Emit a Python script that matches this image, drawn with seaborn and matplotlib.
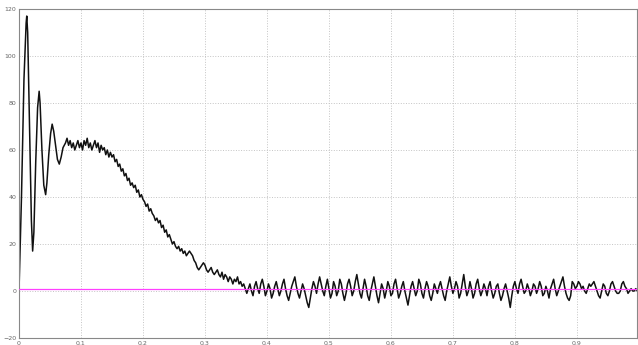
import numpy as np
import pandas as pd
import seaborn as sns
from matplotlib import pyplot as plt

# start-up oscillation (time in s, value)
t_start = [0, 0.004, 0.008, 0.0115, 0.0125, 0.014, 0.017, 0.020, 0.022, 0.024,
           0.027, 0.030, 0.0325, 0.034, 0.037, 0.040, 0.043, 0.045, 0.048, 0.051,
           0.0535, 0.056, 0.059, 0.062, 0.065, 0.068, 0.071]
v_start = [0, 40, 90, 114, 117, 110, 70, 30, 17, 25,
           55, 78, 85, 80, 60, 45, 41, 46, 58, 67,
           71, 68, 62, 56, 54, 57, 61]

# rest of the trace, sampled every 2.5 ms from 0.075 s
v_rest = [
    63, 65, 62, 64, 61, 63, 60, 62, 64, 61, 63, 60, 64, 62, 65, 61, 63, 60, 62, 64,
    61, 63, 59, 62, 60, 61, 58, 60, 57, 59, 57, 58, 55, 56, 53, 54, 51, 52, 49, 50,
    47, 48, 45, 46, 44, 45, 42, 43, 40, 41, 39, 38, 36, 37, 34, 35, 33, 32, 30, 31,
    29, 30, 27, 28, 25, 26, 23, 24, 22, 20, 21, 19, 18, 19, 17, 18, 16, 17, 15, 16,
    17, 16, 15, 13, 12, 10, 9, 10, 11, 12, 11, 9, 8, 9, 10, 8, 7, 8, 9, 7,
    6, 8, 5, 7, 6, 4, 6, 5, 3, 5, 4, 6, 3, 4, 2, 3, 1, -1, 1, 3,
    0, -2, 2, 4, 1, -1, 3, 5, 2, -2, 0, 3, 1, -3, -1, 2, 4, 1, -2, 0,
    3, 5, 1, -2, -4, -1, 2, 4, 6, 2, -1, -3, 0, 3, 1, -2, -5, -7, -3, 1,
    4, 2, -1, 3, 6, 3, 0, -2, 2, 5, 1, -3, -1, 4, 2, -2, 0, 5, 3, -1,
    -4, -1, 3, 5, 2, -2, 0, 4, 7, 3, -1, -3, 1, 5, 2, -2, -4, 0, 3, 6,
    2, -2, -5, -1, 3, 1, -3, 0, 4, 2, -2, -1, 3, 5, 1, -3, -1, 2, 4, 0,
    -3, -6, -2, 2, 4, 1, -2, 0, 5, 3, -1, -3, 1, 4, 2, -2, -4, -1, 3, 1,
    -1, 2, 4, 1, -2, -4, 0, 3, 6, 2, -1, 1, 4, 2, -3, -1, 3, 7, 2, -2,
    0, 4, 1, -3, -1, 3, 5, 1, -2, 0, 3, 1, -2, 2, 4, 0, -3, -1, 2, 3,
    -1, -4, -2, 1, 3, 0, -3, -7, -2, 2, 4, 1, -1, 3, 5, 2, -1, 0, 3, 1,
    -2, 0, 3, 2, -1, 1, 4, 2, -2, -1, 2, 0, -3, 1, 3, 5, 1, -2, 0, 2,
    4, 6, 2, -1, -3, -4, -2, 4, 3, 1, 2, 4, 3, 1, 2, 0, -1, 1, 3, 2,
    3, 4, 2, 0, -2, -3, 0, 3, 2, -1, -2, 0, 3, 4, 2, 0, -1, -1, 0, 3,
    4, 2, 1, -1, 0, 1, 0, 0, 1, 0, -1,
]
t_rest = 0.075 + 0.0025 * np.arange(len(v_rest))

ref_level = 1
x_ticks = [0, 0.1, 0.2, 0.3, 0.4, 0.5, 0.6, 0.7, 0.8, 0.9]
y_ticks = [-20, 0, 20, 40, 60, 80, 100, 120]

df = pd.DataFrame({'t': np.concatenate([t_start, t_rest]),
                   'v': np.concatenate([v_start, v_rest])})
ref = pd.DataFrame({'t': [0, 1], 'v': [ref_level, ref_level]})

sns.set_style('white')
fig = plt.figure(figsize=(6.38, 3.45), dpi=100)
ax = fig.add_axes([19 / 638, 7 / 345, 618 / 638, 329 / 345])

sns.lineplot(data=df, x='t', y='v', estimator=None, sort=False, color='#111111',
             linewidth=1.1, ax=ax)
sns.lineplot(data=ref, x='t', y='v', estimator=None, color='#ff40ff',
             linewidth=0.9, ax=ax, zorder=5)

ax.set_xlim(0, 0.997)
ax.set_ylim(-20, 120)
ax.set_xticks(x_ticks)
ax.set_xticklabels([f'{x:g}' for x in x_ticks])
ax.set_yticks(y_ticks)
ax.set_xlabel('')
ax.set_ylabel('')
ax.grid(True, linestyle=':', color='#c4c4c4', linewidth=0.7)
ax.tick_params(direction='in', length=3, width=0.6, colors='#666666',
               labelsize=4.5, pad=2)
for s in ax.spines.values():
    s.set_color('#888888')
    s.set_linewidth(0.8)

plt.savefig('out.png', dpi=100)
